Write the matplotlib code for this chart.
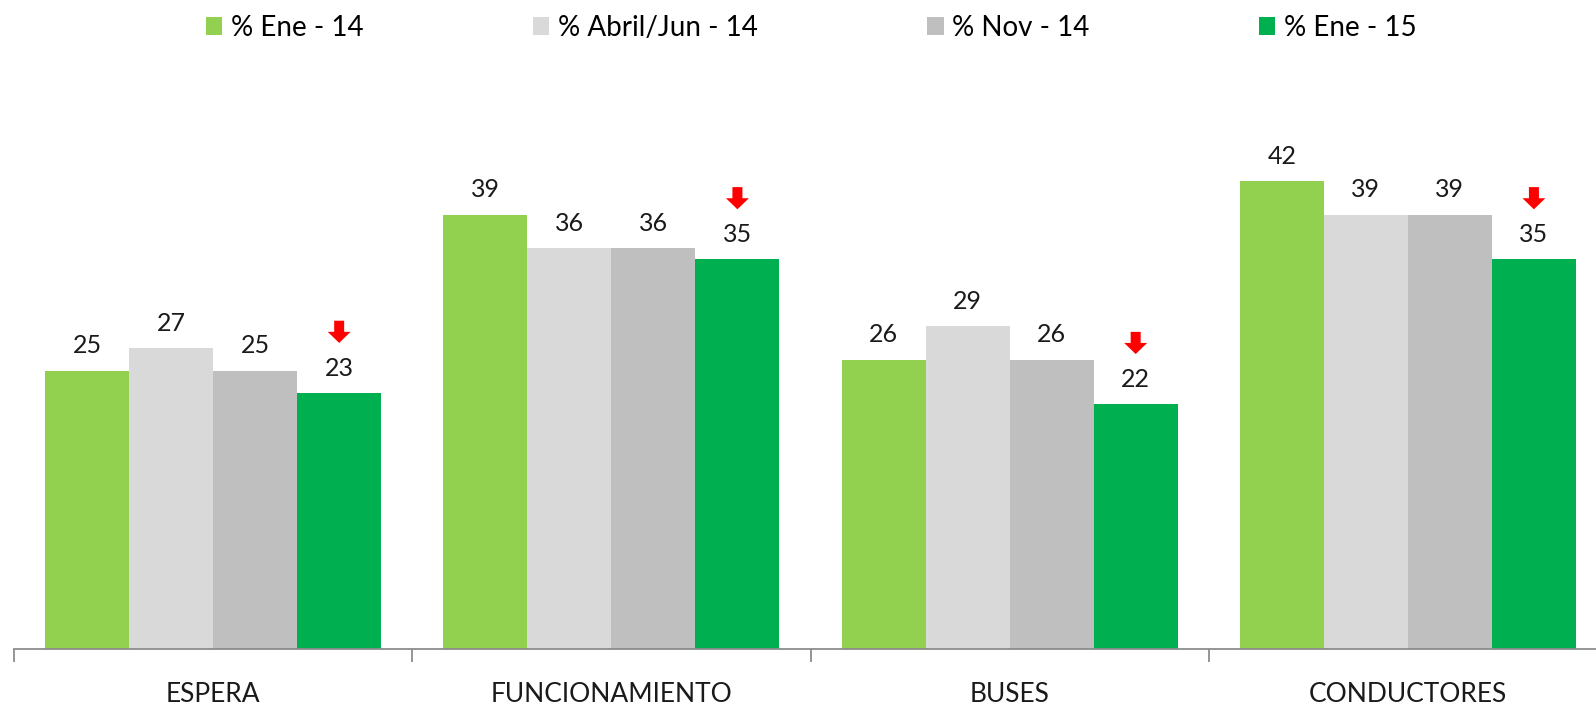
import numpy as np
from matplotlib import pyplot as plt
from matplotlib.patches import Patch
from matplotlib.transforms import offset_copy

plt.rcParams['font.family'] = ['Lato', 'DejaVu Sans']

categories = ['ESPERA', 'FUNCIONAMIENTO', 'BUSES', 'CONDUCTORES']
series = ['% Ene - 14', '% Abril/Jun - 14', '% Nov - 14', '% Ene - 15']
ene14 = [25, 39, 26, 42]
abrjun14 = [27, 36, 29, 39]
nov14 = [25, 36, 26, 39]
ene15 = [23, 35, 22, 35]
colors = ['#92D050', '#D9D9D9', '#BFBFBF', '#00B050']

values = [ene14, abrjun14, nov14, ene15]

fig = plt.figure(figsize=(15.96, 7.06), dpi=100)
# axes runs a bit past the right edge, like the original
ax = fig.add_axes([14 / 1596, 57 / 706, 1593 / 1596, 501 / 706])

x = np.arange(len(categories))
w = 0.211
for i, (vals, col) in enumerate(zip(values, colors)):
    pos = x + (i - 1.5) * w
    ax.bar(pos, vals, width=w, color=col, edgecolor='none')
    for p, v in zip(pos, vals):
        ax.annotate(str(v), (p, v), xytext=(0, 12.5), textcoords='offset points',
                    ha='center', va='baseline', fontsize=18, color='#1a1a1a')

# red down arrows over the last series
tip_tr = offset_copy(ax.transData, fig=fig, x=0, y=36, units='points')
for p, v in zip(x + 1.5 * w, ene15):
    ax.annotate('', xy=(p, v), xycoords=tip_tr,
                xytext=(0, 16), textcoords='offset points',
                arrowprops=dict(arrowstyle='simple,head_length=0.8,head_width=1.65,tail_width=0.72',
                                mutation_scale=10, color='#FF0000', lw=0,
                                shrinkA=0, shrinkB=0))

ax.set_ylim(0, 45)
ax.set_xlim(-0.5, 3.5)
ax.set_yticks([])
for s in ['top', 'right', 'left']:
    ax.spines[s].set_visible(False)
ax.spines['bottom'].set_color('#8C8C8C')
ax.spines['bottom'].set_linewidth(1.3)

ax.set_xticks(x)
ax.set_xticklabels(categories, fontsize=19, color='#1a1a1a')
ax.tick_params(axis='x', which='major', length=0, pad=24)
ax.set_xticks(np.arange(-0.5, 4, 1), minor=True)
ax.tick_params(axis='x', which='minor', length=9, color='#8C8C8C', width=1.3)

handles = [Patch(facecolor=c, edgecolor='none') for c in colors]
fig.legend(handles, series, loc='center', bbox_to_anchor=(811 / 1596, 1 - 27.5 / 706),
           ncol=4, frameon=False, fontsize=20, handlelength=0.6,
           handleheight=0.6, handletextpad=0.3, columnspacing=6.1)

fig.savefig('out.png', dpi=100)
